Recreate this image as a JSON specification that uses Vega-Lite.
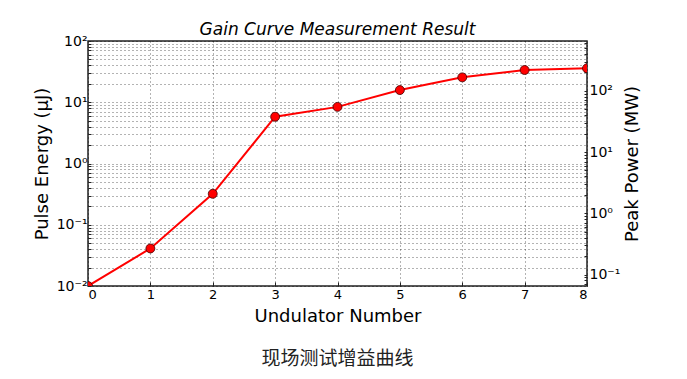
{
  "$schema": "https://vega.github.io/schema/vega-lite/v6.json",
  "autosize": {"type": "pad"},
  "padding": {"left": 32, "top": 20, "right": 5, "bottom": 5},
  "background": "white",
  "title": {"text": "现场测试增益曲线", "orient": "bottom", "font": "Noto Sans CJK SC", "fontSize": 19, "fontWeight": "normal", "color": "#222", "offset": 24, "anchor": "middle", "frame": "group"},
  "config": {
    "view": {"stroke": "#222", "strokeWidth": 1.5},
    "axis": {"labelFont": "DejaVu Sans", "titleFont": "DejaVu Sans", "labelColor": "#000", "titleColor": "#000", "titleFontWeight": "normal", "domain": false, "tickColor": "#222"}
  },
  "vconcat": [
    {
      "width": 499,
      "height": 245,
      "title": {"text": "Gain Curve Measurement Result", "font": "DejaVu Sans", "fontSize": 17, "fontStyle": "italic", "fontWeight": "normal", "color": "#000", "offset": -5, "anchor": "middle"},
      "data": {"values": [
        {"undulator": 0, "energy": 0.01, "power": 0.065},
        {"undulator": 1, "energy": 0.041, "power": 0.27},
        {"undulator": 2, "energy": 0.32, "power": 2.1},
        {"undulator": 3, "energy": 5.8, "power": 37.7},
        {"undulator": 4, "energy": 8.4, "power": 54.6},
        {"undulator": 5, "energy": 15.8, "power": 103},
        {"undulator": 6, "energy": 25.5, "power": 166},
        {"undulator": 7, "energy": 33.6, "power": 218},
        {"undulator": 8, "energy": 35.8, "power": 233}
      ]},
      "encoding": {
        "x": {"field": "undulator", "type": "quantitative", "scale": {"domain": [0, 8], "nice": false},
          "axis": {"values": [0,1,2,3,4,5,6,7,8], "title": "Undulator Number", "titleFontSize": 18, "labelFontSize": 13, "grid": true, "gridDash": [1, 3], "gridColor": "#000", "gridOpacity": 0.6, "tickSize": -4, "labelPadding": 6, "titlePadding": 6}}
      },
      "layer": [
        {
          "encoding": {
            "y": {"field": "energy", "type": "quantitative", "scale": {"type": "log", "domain": [0.01, 100], "nice": false},
              "axis": {"orient": "left", "title": "Pulse Energy (μJ)", "titleFontSize": 18, "labelFontSize": 14,
                "values": [0.01,0.02,0.03,0.04,0.05,0.06,0.07,0.08,0.09,0.1,0.2,0.3,0.4,0.5,0.6,0.7,0.8,0.9,1,2,3,4,5,6,7,8,9,10,20,30,40,50,60,70,80,90,100],
                "labelExpr": "datum.value == 100 ? '10²' : datum.value == 10 ? '10¹' : datum.value == 1 ? '10⁰' : datum.value == 0.1 ? '10⁻¹' : datum.value == 0.01 ? '10⁻²' : ''",
                "grid": true, "gridDash": [1, 3], "gridColor": "#000", "gridOpacity": 0.6, "tickSize": -3, "labelPadding": 4, "titlePadding": 5}}
          },
          "layer": [
            {"mark": {"type": "line", "color": "#ff0000", "strokeWidth": 2, "clip": true}},
            {"mark": {"type": "point", "filled": true, "fill": "#ff0000", "stroke": "#400000", "strokeWidth": 0.8, "size": 80, "opacity": 1, "clip": true}}
          ]
        },
        {
          "mark": {"type": "point", "opacity": 0},
          "encoding": {
            "y": {"field": "power", "type": "quantitative", "scale": {"type": "log", "domain": [0.065, 650], "nice": false},
              "axis": {"orient": "right", "title": "Peak Power (MW)", "titleAngle": 270, "titleBaseline": "top", "titleFontSize": 18, "labelFontSize": 14, "grid": false,
                "values": [0.07,0.08,0.09,0.1,0.2,0.3,0.4,0.5,0.6,0.7,0.8,0.9,1,2,3,4,5,6,7,8,9,10,20,30,40,50,60,70,80,90,100,200,300,400,500,600],
                "labelExpr": "datum.value == 100 ? '10²' : datum.value == 10 ? '10¹' : datum.value == 1 ? '10⁰' : datum.value == 0.1 ? '10⁻¹' : ''",
                "tickSize": -3, "labelPadding": 5, "titlePadding": 4}}
          }
        }
      ],
      "resolve": {"scale": {"y": "independent"}}
    }
  ]
}
